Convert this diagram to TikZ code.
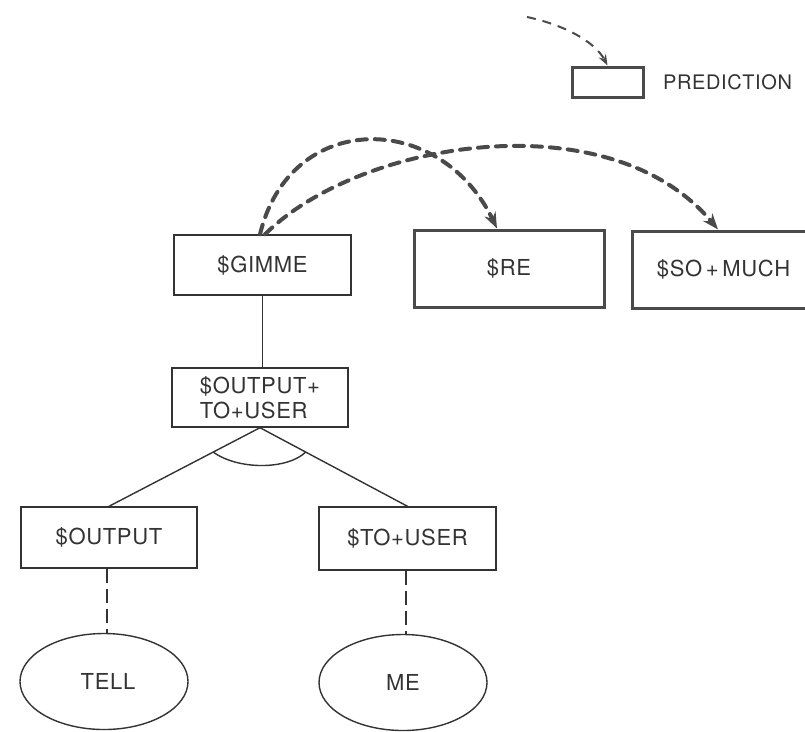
\documentclass[tikz,border=0pt]{standalone}
\usepackage{fontspec}
\setmainfont{TeX Gyre Heros}[LetterSpace=3]
\usetikzlibrary{arrows.meta,shapes.geometric,calc}
\definecolor{ink}{HTML}{333333}
\definecolor{heavy}{HTML}{4A4A4A}
\tikzset{
  lbl/.style={text=ink,font=\fontsize{22}{25}\selectfont},
  thinbox/.style={lbl,draw=ink,line width=1.4pt,rectangle,inner sep=0pt},
  thickbox/.style={lbl,draw=heavy,line width=3pt,rectangle,inner sep=0pt},
  leaf/.style={lbl,draw=ink,line width=1.4pt,ellipse,inner sep=0pt,minimum width=168pt,minimum height=96pt},
  link/.style={draw=ink,line width=1.4pt},
  dlink/.style={draw=ink,line width=1.4pt,dash pattern=on 14pt off 6pt},
  pred/.style={draw=heavy,line width=4pt,dash pattern=on 10pt off 8pt,line cap=round,-{Stealth[length=16pt,width=12pt]}},
  predleg/.style={draw=heavy,line width=2pt,dash pattern=on 9pt off 7pt,-{Stealth[length=11pt,width=8pt]}}
}
\begin{document}
\begin{tikzpicture}[x=1pt,y=-1pt]
\clip (0,0) rectangle (805,731);
\useasboundingbox (0,0) rectangle (805,731);
% legend
\node[thickbox,minimum width=71pt,minimum height=30pt] (legbox) at (607.5,82) {};
\node[lbl,anchor=west,inner sep=0pt,font=\fontsize{20}{22}\selectfont] (legtxt) at (663,82) {PREDICTION};
\coordinate (legstart) at (527,17);
\draw[predleg] (legstart) .. controls (565,25) and (595,42) .. (legbox.north);
% top row
\node[thinbox,minimum width=177pt,minimum height=60pt] (gimme) at (262.5,265) {\$GIMME};
\node[thickbox,minimum width=190pt,minimum height=77pt] (re) at (509,268.5) {\$RE};
\node[thickbox,minimum width=183pt,minimum height=77pt] (somuch) at (723.5,269.5) {\$SO\,+\,MUCH};
% predictions
\draw[pred] ([xshift=-2.5pt]gimme.north) .. controls (290,110) and (440,110) .. ([xshift=-12pt]re.north);
\draw[pred] ([xshift=2.5pt]gimme.north) .. controls (360,140) and (610,100) .. ([xshift=-5.5pt]somuch.north);
% tree
\node[thinbox,minimum width=176pt,minimum height=59pt,align=left] (o2u) at (260,397.5) {\$OUTPUT+\\TO+USER};
\node[thinbox,minimum width=176pt,minimum height=61pt] (output) at (109,537.5) {\$OUTPUT};
\node[thinbox,minimum width=177pt,minimum height=63pt] (touser) at (407.5,538.5) {\$TO+USER};
\node[leaf] (tell) at (104,681.5) {\hspace{8pt}TELL};
\node[leaf] (me) at (403,682.5) {ME};
\draw[link] (gimme.south) -- (gimme.south |- o2u.north);
\draw[link] (o2u.south) -- (output.north);
\draw[link] (o2u.south) -- (touser.north);
\draw[link] ($(o2u.south)!0.31!(output.north)$) .. controls (238,470) and (287,470) .. ($(o2u.south)!0.31!(touser.north)$);
\draw[dlink] ([xshift=-2pt]output.south) -- ([xshift=-2pt]output.south |- tell.north);
\draw[dlink] ([xshift=-1.5pt]touser.south) -- ([xshift=-1.5pt]touser.south |- me.north);
\end{tikzpicture}
\end{document}
